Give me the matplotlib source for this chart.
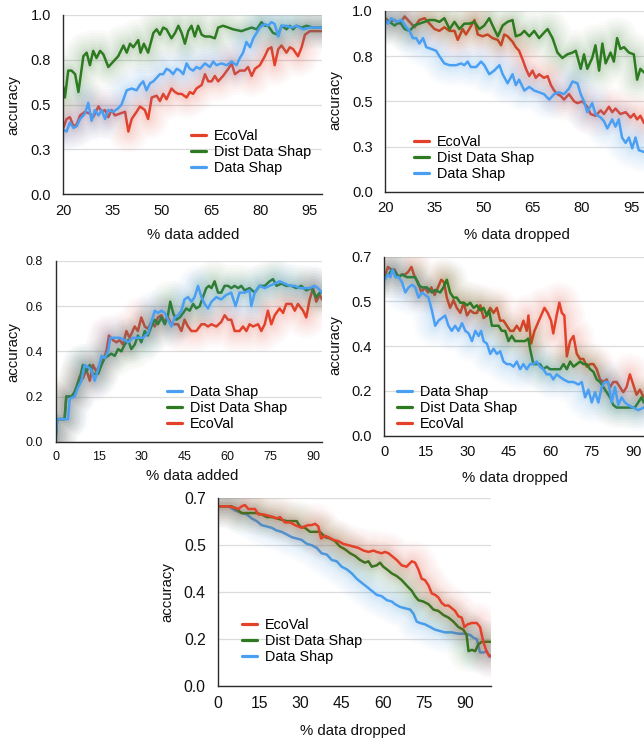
import matplotlib
matplotlib.use("Agg")
import matplotlib.pyplot as plt
from matplotlib import patheffects as pe

plt.rcParams['font.family'] = ['Liberation Sans', 'DejaVu Sans']

RED = '#E4412B'
GREEN = '#2D7A20'
BLUE = '#4A9FF2'

# ---------------- Panel 1: % data added (20-100) ----------------
p1_green_x = [20.0,20.5,21.5,22.5,23.6,24.6,26.1,27.1,28.1,29.1,30.1,31.2,32.2,33.7,35.2,36.7,38.3,39.3,40.3,41.3,42.8,43.5,44.5,45.8,47.4,48.4,49.4,50.4,51.4,52.9,54.0,55.0,56.0,57.0,58.0,59.0,60.0,61.0,62.1,63.1,64.6,66.1,67.1,68.6,70.2,71.7,74.2,75.7,77.3,78.8,80.3,81.3,82.3,83.8,85.4,86.4,87.9,88.9,89.9,90.9,92.5,94.0,96.0,98.7]
p1_green_y = [0.60,0.54,0.69,0.69,0.67,0.57,0.77,0.79,0.72,0.80,0.76,0.80,0.78,0.71,0.74,0.77,0.83,0.79,0.84,0.82,0.86,0.79,0.84,0.79,0.90,0.92,0.89,0.93,0.92,0.87,0.90,0.94,0.90,0.84,0.91,0.94,0.88,0.94,0.89,0.88,0.88,0.87,0.93,0.94,0.93,0.92,0.91,0.92,0.93,0.92,0.96,0.94,0.94,0.90,0.89,0.94,0.92,0.94,0.92,0.94,0.93,0.94,0.93,0.93]
p1_blue_x = [20.0,21.0,22.0,23.1,24.1,25.1,26.6,27.6,28.6,29.6,30.7,31.7,32.7,33.7,35.2,36.7,37.7,39.3,40.8,42.3,43.3,44.3,45.3,46.4,47.4,48.4,49.4,50.4,51.4,52.4,53.4,54.5,55.5,56.5,57.5,58.5,59.5,60.5,61.6,63.1,64.6,65.6,66.6,68.1,69.7,71.2,72.7,73.7,74.7,75.7,76.8,77.8,78.8,79.8,81.3,82.3,83.3,84.3,85.4,86.4,87.9,89.4,90.9,93.0,95.0,98.7]
p1_blue_y = [0.36,0.35,0.40,0.37,0.38,0.42,0.45,0.51,0.41,0.47,0.44,0.47,0.42,0.47,0.46,0.48,0.50,0.58,0.59,0.58,0.61,0.63,0.58,0.62,0.63,0.65,0.67,0.67,0.70,0.69,0.67,0.70,0.69,0.67,0.73,0.70,0.69,0.71,0.70,0.73,0.71,0.74,0.72,0.73,0.72,0.74,0.72,0.76,0.79,0.85,0.82,0.87,0.90,0.93,0.95,0.94,0.96,0.95,0.88,0.94,0.94,0.93,0.94,0.92,0.93,0.93]
p1_red_x = [20.0,21.0,22.0,23.1,24.1,25.1,26.6,28.1,29.1,30.7,31.7,32.7,33.7,34.7,35.7,37.2,38.8,39.8,40.8,42.3,43.3,44.8,45.8,46.9,48.4,49.4,50.4,51.4,52.9,54.0,55.0,56.0,57.5,58.5,59.5,60.5,62.1,63.1,64.1,65.1,66.1,67.1,68.6,70.2,71.2,72.2,73.7,75.2,76.2,77.3,78.3,79.8,81.3,82.3,83.3,84.3,85.4,86.4,87.9,88.9,89.9,91.4,92.5,93.5,95.0,98.7]
p1_red_y = [0.37,0.42,0.43,0.38,0.39,0.44,0.46,0.45,0.43,0.49,0.46,0.47,0.43,0.47,0.44,0.45,0.46,0.35,0.42,0.46,0.49,0.47,0.42,0.54,0.55,0.52,0.56,0.53,0.59,0.57,0.56,0.56,0.54,0.57,0.56,0.59,0.61,0.67,0.63,0.63,0.66,0.63,0.66,0.70,0.73,0.67,0.69,0.69,0.71,0.66,0.70,0.72,0.77,0.81,0.82,0.72,0.81,0.83,0.79,0.82,0.81,0.77,0.82,0.89,0.91,0.91]

# ---------------- Panel 2: % data dropped (20-100) ----------------
p2_green_x = [20.0,21.3,22.8,24.4,25.9,27.4,28.9,30.4,32.0,33.5,35.0,36.5,38.0,39.6,41.1,42.6,44.1,45.6,47.2,48.7,50.2,51.7,52.7,54.3,55.8,57.3,58.8,59.8,61.3,62.4,63.9,65.4,66.9,68.4,69.5,71.0,72.5,74.0,75.5,77.1,78.1,79.6,80.6,81.6,83.1,84.1,85.2,86.2,87.2,88.7,89.7,90.7,91.7,92.8,94.3,95.8,96.8,97.8,98.9]
p2_green_y = [0.95,0.94,0.92,0.94,0.90,0.89,0.92,0.93,0.94,0.95,0.95,0.94,0.96,0.90,0.94,0.90,0.93,0.93,0.94,0.90,0.92,0.96,0.92,0.86,0.92,0.94,0.95,0.86,0.87,0.89,0.86,0.89,0.85,0.88,0.90,0.85,0.77,0.74,0.76,0.77,0.78,0.68,0.76,0.68,0.74,0.81,0.67,0.82,0.71,0.77,0.72,0.85,0.79,0.80,0.77,0.76,0.62,0.68,0.66]
p2_red_x = [20.0,21.3,22.8,24.4,25.9,27.4,28.9,30.4,32.0,33.5,35.0,36.5,38.0,39.6,41.1,42.1,43.6,44.6,45.6,47.2,48.2,49.7,51.2,52.7,54.3,55.3,56.3,57.3,58.8,59.8,60.8,61.9,62.9,63.9,64.9,65.9,66.9,68.4,69.5,70.5,71.5,72.5,73.5,74.5,76.0,77.6,78.6,80.1,81.6,82.6,84.1,85.7,86.7,88.2,89.2,90.2,91.7,93.3,94.8,95.8,96.8,97.8,98.9]
p2_red_y = [0.96,0.94,0.95,0.93,0.97,0.94,0.91,0.95,0.96,0.93,0.90,0.89,0.91,0.89,0.89,0.84,0.90,0.87,0.90,0.95,0.87,0.86,0.87,0.85,0.84,0.81,0.87,0.86,0.83,0.80,0.78,0.73,0.68,0.64,0.67,0.63,0.65,0.63,0.64,0.59,0.56,0.54,0.53,0.51,0.54,0.50,0.49,0.50,0.47,0.43,0.42,0.45,0.43,0.47,0.44,0.46,0.43,0.44,0.41,0.43,0.40,0.42,0.38]
p2_blue_x = [20.0,20.8,21.8,23.4,24.9,26.4,27.4,28.4,29.4,30.4,31.5,32.5,34.0,35.5,36.5,38.0,39.6,41.6,43.1,44.1,45.1,46.1,47.7,49.2,50.2,51.7,53.2,54.8,55.8,57.3,58.8,59.8,60.8,62.4,63.9,65.4,66.9,68.4,70.0,71.5,73.0,74.5,76.0,77.1,78.6,79.6,80.6,81.6,83.1,84.1,85.7,86.7,87.7,89.2,90.2,91.2,92.2,93.3,94.3,95.3,96.3,97.3,98.9]
p2_blue_y = [0.95,0.93,0.96,0.94,0.95,0.91,0.89,0.85,0.85,0.82,0.85,0.80,0.79,0.78,0.75,0.71,0.70,0.70,0.71,0.70,0.72,0.69,0.69,0.72,0.70,0.65,0.67,0.70,0.65,0.60,0.65,0.59,0.62,0.56,0.58,0.56,0.55,0.54,0.51,0.54,0.55,0.54,0.57,0.61,0.60,0.54,0.50,0.44,0.49,0.43,0.41,0.39,0.35,0.40,0.36,0.40,0.30,0.27,0.30,0.24,0.30,0.23,0.22]

# ---------------- Panel 3: % data added (0-93) ----------------
p3_blue_x = [0.0,0.5,4.3,4.9,6.6,7.8,9.0,10.1,11.3,12.4,13.6,14.8,16.0,17.1,18.3,19.1,20.6,22.3,24.1,25.3,27.0,28.7,30.5,32.2,33.4,34.6,35.7,36.9,38.1,39.2,40.4,41.6,42.7,43.9,45.0,46.2,47.4,48.5,49.7,50.9,52.0,53.2,54.4,56.1,57.8,59.6,61.3,62.8,64.2,66.0,67.7,68.3,69.5,71.2,73.0,74.7,76.5,78.2,80.0,81.7,83.5,85.2,86.9,88.7,90.4,91.6,93.0]
p3_blue_y = [0.01,0.10,0.10,0.19,0.20,0.24,0.27,0.34,0.33,0.32,0.27,0.32,0.38,0.37,0.40,0.46,0.46,0.46,0.45,0.44,0.46,0.46,0.46,0.48,0.53,0.58,0.57,0.58,0.57,0.54,0.51,0.55,0.56,0.58,0.63,0.64,0.62,0.64,0.69,0.64,0.61,0.59,0.62,0.64,0.63,0.65,0.66,0.60,0.66,0.66,0.67,0.60,0.66,0.69,0.68,0.69,0.70,0.71,0.70,0.69,0.69,0.68,0.68,0.68,0.69,0.68,0.66]
p3_green_x = [0.0,0.5,3.1,3.7,5.5,6.6,8.4,9.5,10.7,11.9,13.0,14.8,16.0,17.1,18.3,19.4,20.6,21.8,22.9,24.1,25.3,26.4,27.6,28.7,29.9,31.1,32.2,33.4,34.6,35.7,36.9,38.1,39.2,40.0,41.0,42.1,43.3,44.5,45.6,46.8,48.0,49.1,50.3,51.4,52.6,53.5,54.4,55.5,56.7,57.8,59.0,60.2,61.3,62.5,63.7,64.8,66.0,67.7,69.5,71.2,73.0,74.7,75.9,77.1,78.8,80.5,82.3,84.0,85.8,87.5,89.3,91.0,92.2,93.0]
p3_green_y = [0.02,0.10,0.10,0.20,0.20,0.22,0.28,0.34,0.31,0.34,0.30,0.30,0.34,0.37,0.38,0.39,0.38,0.41,0.40,0.43,0.45,0.41,0.43,0.47,0.44,0.49,0.47,0.51,0.54,0.52,0.55,0.52,0.56,0.62,0.57,0.54,0.55,0.57,0.59,0.58,0.61,0.59,0.60,0.64,0.68,0.69,0.68,0.71,0.66,0.66,0.69,0.69,0.68,0.69,0.68,0.69,0.67,0.68,0.66,0.69,0.69,0.71,0.72,0.69,0.70,0.69,0.69,0.68,0.69,0.67,0.68,0.64,0.66,0.66]
p3_red_x = [0.0,0.5,3.1,3.7,6.0,7.2,8.4,9.5,10.7,11.9,13.0,14.2,15.4,16.5,17.7,18.6,20.0,21.2,22.3,23.5,24.7,25.8,27.6,28.7,29.9,31.1,32.2,33.4,34.6,35.7,36.9,38.1,39.2,40.4,41.6,42.7,43.9,45.0,46.2,47.4,49.1,50.9,52.0,53.2,54.4,56.1,57.8,59.0,60.2,61.3,62.5,64.2,65.4,66.6,67.7,68.9,70.7,71.8,73.0,74.1,75.3,76.5,78.2,79.4,80.5,82.3,83.5,84.6,86.4,87.5,88.7,89.9,91.0,92.2,93.0]
p3_red_y = [0.02,0.10,0.10,0.20,0.20,0.24,0.29,0.28,0.32,0.27,0.34,0.31,0.34,0.36,0.40,0.47,0.45,0.44,0.45,0.43,0.49,0.46,0.51,0.49,0.55,0.51,0.50,0.53,0.51,0.55,0.56,0.53,0.55,0.52,0.52,0.52,0.49,0.54,0.51,0.49,0.49,0.52,0.52,0.51,0.52,0.51,0.53,0.56,0.54,0.54,0.49,0.49,0.51,0.49,0.52,0.51,0.52,0.49,0.52,0.58,0.52,0.56,0.59,0.57,0.61,0.61,0.58,0.61,0.58,0.55,0.63,0.68,0.62,0.65,0.63]

# ---------------- Panel 4: % data dropped (0-94) ----------------
p4_blue_x = [0.1,1.3,2.2,3.0,4.0,5.2,6.4,7.6,8.8,10.0,11.2,12.4,13.6,14.8,16.0,17.2,18.4,19.6,20.8,22.0,23.2,24.4,25.6,26.8,28.1,29.3,30.5,31.7,32.9,34.1,35.0,35.9,37.1,38.3,39.5,40.7,41.9,43.1,44.3,45.5,46.7,47.9,49.1,50.3,51.5,52.7,53.9,55.1,56.3,57.5,58.7,60.0,61.1,62.3,63.5,64.8,66.6,68.4,70.2,71.4,72.6,73.8,75.0,76.2,77.4,78.6,79.8,81.0,82.2,83.4,84.6,85.8,87.0,88.2,90.0,91.8,93.8]
p4_blue_y = [0.61,0.63,0.62,0.65,0.62,0.62,0.60,0.56,0.58,0.59,0.58,0.54,0.56,0.55,0.54,0.49,0.43,0.45,0.46,0.47,0.43,0.41,0.43,0.41,0.44,0.41,0.40,0.37,0.41,0.39,0.41,0.37,0.36,0.32,0.34,0.32,0.33,0.29,0.28,0.28,0.27,0.29,0.26,0.28,0.26,0.28,0.28,0.29,0.27,0.26,0.24,0.24,0.22,0.24,0.23,0.22,0.21,0.21,0.20,0.21,0.15,0.18,0.13,0.17,0.13,0.19,0.21,0.21,0.13,0.19,0.12,0.15,0.13,0.12,0.11,0.10,0.11]
p4_green_x = [0.1,1.6,2.8,4.0,5.2,6.4,8.2,10.0,11.2,12.4,13.6,15.4,17.2,18.4,20.2,21.4,22.6,23.8,25.0,26.2,27.5,28.7,29.9,31.1,32.3,33.5,34.7,35.9,37.1,37.9,38.9,40.1,41.3,42.5,43.7,44.9,46.1,47.3,48.5,49.7,50.9,52.1,52.7,53.9,55.1,56.3,57.5,58.7,59.9,61.1,62.3,63.6,64.8,66.0,67.2,68.4,69.6,70.8,72.0,73.2,74.4,75.6,76.8,78.0,79.2,80.4,81.6,82.8,84.0,85.8,87.6,89.4,90.6,91.8,93.0,93.8]
p4_green_y = [0.62,0.63,0.65,0.64,0.62,0.63,0.62,0.62,0.62,0.59,0.58,0.58,0.56,0.57,0.56,0.58,0.61,0.56,0.54,0.54,0.52,0.52,0.51,0.52,0.50,0.51,0.49,0.50,0.47,0.49,0.43,0.43,0.43,0.41,0.41,0.37,0.39,0.37,0.37,0.37,0.37,0.38,0.34,0.28,0.28,0.28,0.26,0.27,0.26,0.26,0.26,0.26,0.28,0.26,0.29,0.27,0.28,0.29,0.28,0.28,0.26,0.25,0.22,0.21,0.19,0.17,0.15,0.12,0.11,0.11,0.11,0.11,0.11,0.13,0.15,0.13]
p4_red_x = [0.1,1.3,2.5,3.7,5.0,6.2,7.4,8.6,9.8,11.0,12.2,13.4,14.6,15.8,17.0,18.2,19.4,20.6,21.6,22.6,23.8,25.0,26.2,27.5,28.7,29.9,31.1,32.3,33.5,34.7,35.9,37.1,38.3,39.5,40.7,41.9,43.1,44.3,45.5,46.7,47.9,49.1,50.3,51.5,52.1,53.1,54.3,55.5,56.7,57.9,59.1,60.3,61.1,62.3,63.3,64.2,65.1,66.0,67.2,68.4,69.6,70.8,72.0,73.2,74.4,75.6,76.8,78.0,79.2,80.4,81.6,82.8,84.0,85.2,86.4,87.6,88.8,90.0,91.2,92.4,93.8]
p4_red_y = [0.62,0.66,0.65,0.65,0.62,0.63,0.63,0.64,0.66,0.62,0.60,0.56,0.58,0.56,0.58,0.55,0.58,0.61,0.60,0.54,0.50,0.53,0.50,0.48,0.52,0.47,0.49,0.48,0.48,0.51,0.46,0.47,0.50,0.48,0.50,0.45,0.45,0.43,0.41,0.41,0.43,0.41,0.45,0.41,0.47,0.36,0.41,0.44,0.47,0.50,0.48,0.45,0.40,0.47,0.52,0.48,0.47,0.31,0.37,0.39,0.32,0.30,0.30,0.27,0.28,0.28,0.26,0.22,0.21,0.22,0.19,0.21,0.21,0.19,0.17,0.19,0.24,0.20,0.16,0.18,0.15]

# ---------------- Panel 5: % data dropped (0-100) ----------------
p5_red_x = [0.0,3.7,6.1,7.3,8.5,9.7,11.0,12.2,13.4,14.6,16.4,18.3,20.1,21.3,22.5,24.3,26.2,28.0,29.2,30.4,31.4,32.9,34.1,35.3,36.5,37.5,39.0,40.2,42.0,43.8,45.6,47.5,49.3,51.1,53.0,54.8,56.6,57.8,59.6,60.8,62.1,63.3,65.1,66.9,68.7,70.6,71.8,73.0,74.2,75.4,76.7,77.9,79.1,80.3,81.5,82.7,84.0,85.2,86.4,87.6,88.8,89.8,91.0,92.5,94.3,95.5,96.7,98.0,99.2]
p5_red_y = [0.67,0.67,0.665,0.66,0.67,0.675,0.66,0.66,0.66,0.64,0.64,0.635,0.63,0.625,0.63,0.61,0.61,0.60,0.595,0.59,0.595,0.60,0.60,0.605,0.595,0.55,0.56,0.555,0.545,0.54,0.53,0.525,0.52,0.515,0.505,0.50,0.505,0.50,0.495,0.50,0.495,0.485,0.47,0.45,0.445,0.465,0.46,0.435,0.40,0.395,0.375,0.345,0.34,0.33,0.31,0.30,0.30,0.29,0.28,0.26,0.255,0.22,0.23,0.235,0.235,0.22,0.165,0.125,0.11]
p5_green_x = [0.0,4.9,7.3,8.5,10.4,12.2,14.0,15.8,17.7,19.5,21.3,23.1,25.0,26.8,28.6,29.8,31.6,33.5,35.3,37.1,39.0,40.8,42.6,44.4,46.2,48.1,49.9,51.7,53.5,54.8,56.0,57.8,59.0,60.2,61.5,63.3,65.1,66.9,68.7,70.6,71.8,73.0,74.8,76.7,78.5,80.3,82.1,84.0,85.8,87.6,89.4,90.6,91.3,92.5,93.7,94.9,96.1,97.3,99.2]
p5_green_y = [0.67,0.67,0.655,0.645,0.645,0.645,0.645,0.64,0.63,0.63,0.625,0.62,0.615,0.615,0.615,0.595,0.59,0.575,0.575,0.575,0.555,0.55,0.54,0.52,0.51,0.495,0.485,0.47,0.46,0.465,0.445,0.45,0.46,0.445,0.435,0.42,0.41,0.395,0.375,0.355,0.335,0.32,0.315,0.305,0.285,0.28,0.265,0.255,0.24,0.22,0.21,0.19,0.13,0.135,0.13,0.155,0.165,0.165,0.165]
p5_blue_x = [0.0,3.7,6.1,8.5,10.4,12.2,14.0,15.8,17.7,19.5,21.3,23.1,25.0,26.8,28.6,30.4,32.3,34.1,35.9,37.7,39.6,41.4,43.2,45.0,46.9,48.7,50.5,52.3,54.2,56.0,57.8,59.6,61.5,63.3,64.5,66.3,68.1,70.0,71.2,72.4,73.6,75.4,77.3,79.1,80.9,82.7,85.2,87.6,90.0,91.9,93.1,94.3,95.5,96.7,98.0,98.8,99.5]
p5_blue_y = [0.67,0.67,0.655,0.645,0.64,0.625,0.615,0.60,0.595,0.59,0.58,0.575,0.565,0.555,0.55,0.545,0.53,0.525,0.515,0.495,0.49,0.47,0.465,0.445,0.435,0.42,0.40,0.385,0.37,0.355,0.34,0.335,0.32,0.315,0.305,0.295,0.29,0.285,0.27,0.24,0.235,0.23,0.22,0.21,0.205,0.20,0.20,0.195,0.195,0.19,0.18,0.175,0.125,0.125,0.13,0.11,0.115]

# tick values / labels
xt_20 = [20, 35, 50, 65, 80, 95]
xt_0 = [0, 15, 30, 45, 60, 75, 90]
yt_1 = [0.0, 0.25, 0.5, 0.75, 1.0]
yl_1 = ['0.0', '0.3', '0.5', '0.8', '1.0']
yt_08 = [0.0, 0.2, 0.4, 0.6, 0.8]
yl_08 = ['0.0', '0.2', '0.4', '0.6', '0.8']
yt_07 = [0.0, 0.175, 0.35, 0.525, 0.7]
yl_07 = ['0.0', '0.2', '0.4', '0.5', '0.7']

W, H = 644, 740
fig = plt.figure(figsize=(W / 100, H / 100), dpi=100)


def glow(color):
    layers = [(30, 0.022), (26, 0.025), (22, 0.028), (18, 0.032),
              (14, 0.036), (10, 0.04), (6, 0.05)]
    return [pe.Stroke(linewidth=w, foreground=color, alpha=a) for w, a in layers] + [pe.Normal()]


def panel(rect, xlim, ylim, xticks, yticks, ylabels, series, legend_order,
          leg_xy, xlabel, xlab_xy, ylab_xy, tick_fs):
    l, t, r, b = rect
    ax = fig.add_axes([l / W, 1 - b / H, (r - l) / W, (b - t) / H])
    handles = {}
    for name, xs, ys, c in series:
        n = min(len(xs), len(ys))
        ln, = ax.plot(xs[:n], ys[:n], color=c, lw=1.8, solid_joinstyle='round',
                      solid_capstyle='round', label=name)
        ln.set_path_effects(glow(c))
        handles[name] = ln
    ax.set_xlim(*xlim)
    ax.set_ylim(*ylim)
    ax.set_xticks(xticks)
    ax.set_yticks(yticks)
    ax.set_yticklabels(ylabels)
    ax.tick_params(axis='both', length=0, labelsize=tick_fs, colors='#111111')
    ax.tick_params(axis='y', pad=9)
    ax.tick_params(axis='x', pad=7)
    ax.grid(axis='y', color='#dcdcdc', lw=0.9)
    ax.set_axisbelow(True)
    for s in ['top', 'right']:
        ax.spines[s].set_visible(False)
    for s in ['left', 'bottom']:
        ax.spines[s].set_color('#2a2a2a')
        ax.spines[s].set_linewidth(1.0)
    leg = ax.legend([handles[k] for k in legend_order], legend_order,
                    loc='center left', bbox_to_anchor=(leg_xy[0] / W, 1 - leg_xy[1] / H),
                    bbox_transform=fig.transFigure, frameon=False, fontsize=10.4,
                    borderpad=0, borderaxespad=0, handlelength=1.05,
                    handletextpad=0.55, labelspacing=0.12)
    for ln in leg.get_lines():
        ln.set_path_effects([])
        ln.set_linewidth(2.3)
    fig.text(xlab_xy[0] / W, 1 - xlab_xy[1] / H, xlabel, ha='center', va='center',
             fontsize=10.8, color='#111111')
    fig.text(ylab_xy[0] / W, 1 - ylab_xy[1] / H, 'accuracy', ha='center', va='center',
             rotation=90, fontsize=10.8, color='#111111')
    return ax


panel((63.3, 15, 322, 194.3), (20, 98.7), (0, 1.0), xt_20, yt_1, yl_1,
      [('EcoVal', p1_red_x, p1_red_y, RED),
       ('Dist Data Shap', p1_green_x, p1_green_y, GREEN),
       ('Data Shap', p1_blue_x, p1_blue_y, BLUE)],
      ['EcoVal', 'Dist Data Shap', 'Data Shap'],
      (191, 152), '% data added', (193, 235), (13, 105), 10.5)

panel((385.3, 11, 644, 191.7), (20, 98.9), (0, 1.0), xt_20, yt_1, yl_1,
      [('EcoVal', p2_red_x, p2_red_y, RED),
       ('Dist Data Shap', p2_green_x, p2_green_y, GREEN),
       ('Data Shap', p2_blue_x, p2_blue_y, BLUE)],
      ['EcoVal', 'Dist Data Shap', 'Data Shap'],
      (414, 158), '% data dropped', (517, 235), (335, 100), 10.6)

panel((55.7, 261, 322, 441.7), (0, 93.0), (0, 0.8), xt_0, yt_08, yl_08,
      [('EcoVal', p3_red_x, p3_red_y, RED),
       ('Dist Data Shap', p3_green_x, p3_green_y, GREEN),
       ('Data Shap', p3_blue_x, p3_blue_y, BLUE)],
      ['Data Shap', 'Dist Data Shap', 'EcoVal'],
      (167, 408), '% data added', (192, 476), (13, 352), 9.0)

panel((384.3, 256.7, 644, 435.7), (0, 93.9), (0, 0.7), xt_0, yt_07, yl_07,
      [('EcoVal', p4_red_x, p4_red_y, RED),
       ('Dist Data Shap', p4_green_x, p4_green_y, GREEN),
       ('Data Shap', p4_blue_x, p4_blue_y, BLUE)],
      ['Data Shap', 'Dist Data Shap', 'EcoVal'],
      (397, 408), '% data dropped', (515, 478), (335, 345), 10.5)

panel((218.3, 498.3, 491, 686), (0, 99.5), (0, 0.7), xt_0, yt_07, yl_07,
      [('Data Shap', p5_blue_x, p5_blue_y, BLUE),
       ('Dist Data Shap', p5_green_x, p5_green_y, GREEN),
       ('EcoVal', p5_red_x, p5_red_y, RED)],
      ['EcoVal', 'Dist Data Shap', 'Data Shap'],
      (242, 641), '% data dropped', (353, 731), (167, 592), 11.3)

fig.savefig('out.png', dpi=100)
